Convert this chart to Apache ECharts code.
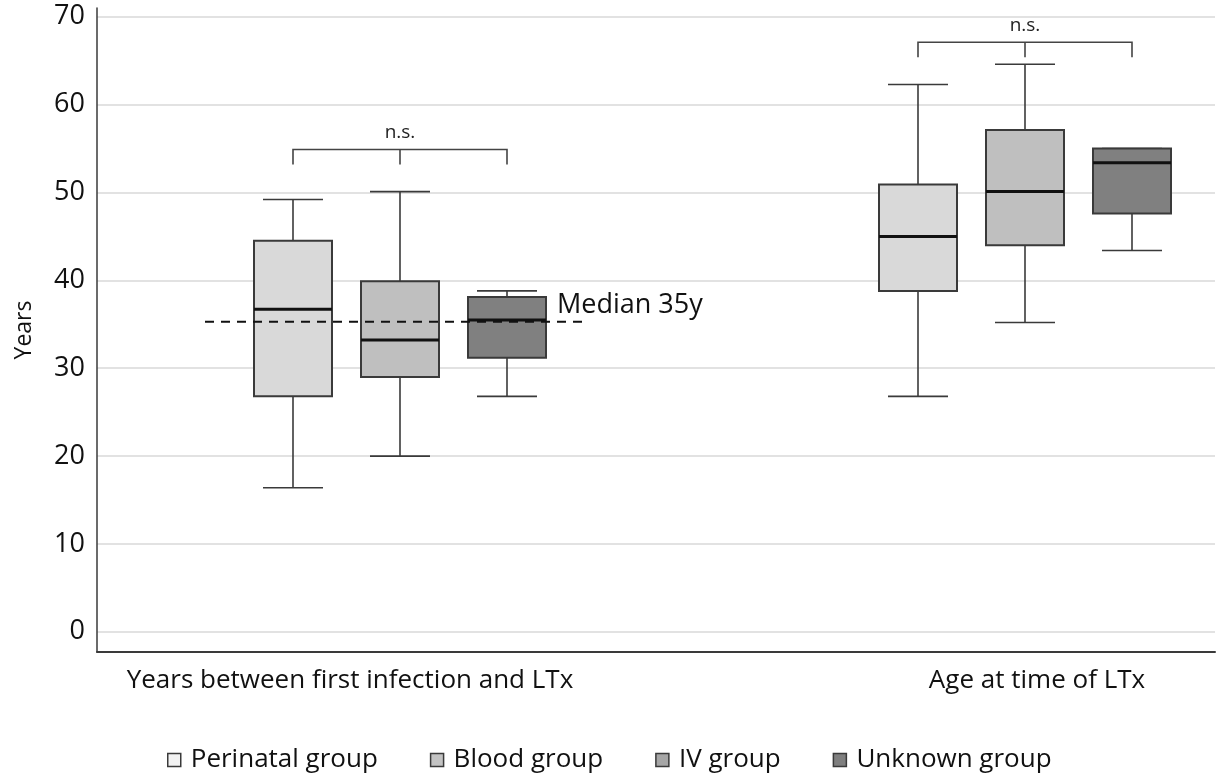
<!DOCTYPE html>
<html>
<head>
<meta charset="utf-8">
<script src="https://cdn.jsdelivr.net/npm/echarts@6/dist/echarts.min.js"></script>
<style>
html,body{margin:0;padding:0;background:#fff;}
#chart{width:1218px;height:781px;}
</style>
</head>
<body>
<div id="chart"></div>
<script>
// ---- data ----
const categories = ['Years between first infection and LTx', 'Age at time of LTx'];
const groupNames = ['Perinatal group', 'Blood group', 'IV group', 'Unknown group'];
// rows: [categoryIndex, min, Q1, median, Q3, max]
const perinatalData = [[0, 16.4, 26.8, 36.7, 44.5, 49.2], [1, 26.8, 38.8, 45.0, 50.9, 62.3]];
const bloodData     = [[0, 20.0, 29.0, 33.2, 39.9, 50.1], [1, 35.2, 44.0, 50.1, 57.1, 64.6]];
const ivData        = [];
const unknownData   = [[0, 26.8, 31.2, 35.5, 38.1, 38.8], [1, 43.4, 47.6, 53.4, 55.0, 55.0]];
const yTicks = [0, 10, 20, 30, 40, 50, 60, 70];
const overallMedian = 35.3;
const medianLabel = 'Median 35y';
// rows: [categoryIndex, bracket level, text]
const brackets = [[0, 54.9, 'n.s.'], [1, 67.1, 'n.s.']];

// ---- layout / style ----
const SLOT_STEP = 0.1712;          // offset between boxes in category units
const slotOf = { 'Perinatal group': -1, 'Blood group': 0, 'IV group': 0, 'Unknown group': 1 };
const boxFill = { 'Perinatal group': '#d9d9d9', 'Blood group': '#bfbfbf', 'IV group': '#a6a6a6', 'Unknown group': '#808080' };
const legendFill = { 'Perinatal group': '#f2f2f2', 'Blood group': '#c3c3c3', 'IV group': '#a6a6a6', 'Unknown group': '#7f7f7f' };
const BOX_W = 78, CAP_W = 60;
const EDGE = '#3a3a3a';
const FONT = 'Open Sans';
const LABEL_POS = [-0.08, 1.0192];  // category label anchor positions (layout)

function renderBox(params, api) {
  const name = params.seriesName;
  const x = api.value(0) + slotOf[name] * SLOT_STEP;
  const pMin = api.coord([x, api.value(1)]);
  const pQ1 = api.coord([x, api.value(2)]);
  const pMed = api.coord([x, api.value(3)]);
  const pQ3 = api.coord([x, api.value(4)]);
  const pMax = api.coord([x, api.value(5)]);
  const cx = pMed[0];
  const ls = { stroke: EDGE, lineWidth: 1.6 };
  return {
    type: 'group',
    children: [
      { type: 'line', shape: { x1: cx, y1: pQ3[1], x2: cx, y2: pMax[1] }, style: ls },
      { type: 'line', shape: { x1: cx - CAP_W / 2, y1: pMax[1], x2: cx + CAP_W / 2, y2: pMax[1] }, style: ls },
      { type: 'line', shape: { x1: cx, y1: pQ1[1], x2: cx, y2: pMin[1] }, style: ls },
      { type: 'line', shape: { x1: cx - CAP_W / 2, y1: pMin[1], x2: cx + CAP_W / 2, y2: pMin[1] }, style: ls },
      { type: 'rect', shape: { x: cx - BOX_W / 2, y: pQ3[1], width: BOX_W, height: pQ1[1] - pQ3[1] },
        style: { fill: boxFill[name], stroke: EDGE, lineWidth: 2 } },
      { type: 'line', shape: { x1: cx - BOX_W / 2, y1: pMed[1], x2: cx + BOX_W / 2, y2: pMed[1] },
        style: { stroke: '#111', lineWidth: 3 } }
    ]
  };
}

function boxSeries(name, data) {
  return {
    name: name,
    type: 'custom',
    data: data,
    itemStyle: { color: boxFill[name] },
    encode: { x: 0, y: [1, 2, 3, 4, 5] },
    renderItem: renderBox,
    z: 3
  };
}

const chart = echarts.init(document.getElementById('chart'), null, { renderer: 'canvas' });

const option = {
  animation: false,
  backgroundColor: '#fff',
  textStyle: { fontFamily: FONT },
  grid: { left: 97, right: 3, top: 8, bottom: 129, containLabel: false },
  legend: {
    left: 162,
    top: 742,
    itemWidth: 13,
    itemHeight: 13,
    itemGap: 52,
    icon: 'rect',
    itemStyle: { borderColor: EDGE, borderWidth: 1.5 },
    textStyle: { fontFamily: FONT, fontSize: 26, color: '#111', padding: [0, 0, 0, 5] },
    data: groupNames.map(n => ({ name: n, itemStyle: { color: legendFill[n] } }))
  },
  xAxis: {
    type: 'value',
    min: -0.4848,
    max: 1.304,
    splitLine: { show: false },
    axisTick: { show: false },
    axisLine: { show: true, onZero: false, lineStyle: { color: EDGE, width: 2 } },
    axisLabel: { show: false }
  },
  yAxis: {
    type: 'value',
    min: -2.3,
    max: 71,
    name: 'Years',
    nameLocation: 'middle',
    nameRotate: 90,
    nameGap: 61,
    nameTextStyle: { fontFamily: FONT, fontSize: 23, color: '#111' },
    axisLine: { show: true, onZero: false, lineStyle: { color: EDGE, width: 1.5 } },
    axisTick: { show: false, customValues: yTicks },
    axisLabel: { customValues: yTicks, fontFamily: FONT, fontSize: 27, color: '#111', margin: 12 },
    splitLine: { show: true, lineStyle: { color: '#d9d9d9', width: 1.5 } }
  },
  series: [
    boxSeries('Perinatal group', perinatalData),
    boxSeries('Blood group', bloodData),
    boxSeries('IV group', ivData),
    boxSeries('Unknown group', unknownData),
    {
      name: 'categoryLabels',
      type: 'custom',
      data: categories.map((c, i) => [i, -2.3]),
      encode: { x: 0, y: 1 },
      clip: false,
      renderItem: function (params, api) {
        const p = api.coord([LABEL_POS[params.dataIndex], api.value(1)]);
        return {
          type: 'text', x: p[0], y: p[1] + 29,
          style: { text: categories[params.dataIndex], fontFamily: FONT, fontSize: 26, fill: '#111', align: 'center', verticalAlign: 'middle' }
        };
      }
    },
    {
      name: 'brackets',
      type: 'custom',
      data: brackets,
      encode: { x: 0, y: 1 },
      renderItem: function (params, api) {
        const g = api.value(0), lvl = api.value(1);
        const pl = api.coord([g - SLOT_STEP, lvl]);
        const pc = api.coord([g, lvl]);
        const pr = api.coord([g + SLOT_STEP, lvl]);
        const tick = 15;
        const ls = { stroke: '#444', lineWidth: 1.6, fill: null };
        return {
          type: 'group',
          children: [
            { type: 'polyline', shape: { points: [[pl[0], pl[1] + tick], [pl[0], pl[1]], [pr[0], pr[1]], [pr[0], pr[1] + tick]] }, style: ls },
            { type: 'line', shape: { x1: pc[0], y1: pc[1], x2: pc[0], y2: pc[1] + tick }, style: ls },
            { type: 'text', x: pc[0], y: pc[1] - 17,
              style: { text: brackets[params.dataIndex][2], fontFamily: FONT, fontSize: 19, fill: '#222', align: 'center', verticalAlign: 'middle' } }
          ]
        };
      },
      z: 4
    },
    {
      name: 'median',
      type: 'custom',
      data: [[0, overallMedian]],
      encode: { x: 0, y: 1 },
      renderItem: function (params, api) {
        const g = api.value(0), v = api.value(1);
        const p1 = api.coord([g - 0.312, v]);
        const p2 = api.coord([g + 0.2912, v]);
        return {
          type: 'group',
          children: [
            { type: 'line', shape: { x1: p1[0], y1: p1[1], x2: p2[0], y2: p2[1] },
              style: { stroke: '#111', lineWidth: 2, lineDash: [9, 7] } },
            { type: 'text', x: p2[0] - 25, y: p2[1] - 16,
              style: { text: medianLabel, fontFamily: FONT, fontSize: 27, fill: '#111', align: 'left', verticalAlign: 'middle' } }
          ]
        };
      },
      z: 5
    }
  ]
};
chart.setOption(option);
</script>
</body>
</html>
